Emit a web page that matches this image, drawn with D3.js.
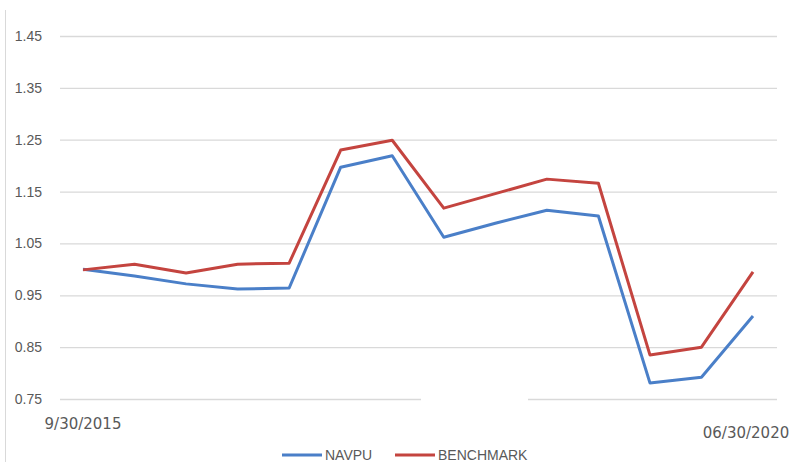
<!DOCTYPE html>
<html>
<head>
<meta charset="utf-8">
<script src="https://cdn.jsdelivr.net/npm/d3@7"></script>
<style>
  body { margin: 0; background: #fff; }
  svg text { font-family: "Liberation Sans Narrow", "Arial Narrow", "Liberation Sans", sans-serif; fill: #595959; }
  svg text.date { font-family: "DejaVu Sans", sans-serif; }
</style>
</head>
<body>
<svg id="chart" width="794" height="462"></svg>
<script>
// 14 observations, only first and last date are labelled on the axis
var periods = d3.range(14);
var firstLabel = "9/30/2015";
var lastLabel = "06/30/2020";
var navpu     = [1.000, 0.987, 0.972, 0.962, 0.964, 1.197, 1.219, 1.062, 1.089, 1.114, 1.103, 0.781, 0.792, 0.910];
var benchmark = [0.999, 1.010, 0.993, 1.010, 1.012, 1.230, 1.249, 1.118, 1.146, 1.174, 1.166, 0.835, 0.850, 0.995];
var yTicks = [0.75, 0.85, 0.95, 1.05, 1.15, 1.25, 1.35, 1.45];

var svg = d3.select("#chart"),
    margin = {top: 36, right: 17, bottom: 63, left: 60},
    width = +svg.attr("width") - margin.left - margin.right,
    height = +svg.attr("height") - margin.top - margin.bottom;

var x = d3.scalePoint()
    .domain(periods)
    .range([23, 693]);
var y = d3.scaleLinear()
    .domain([0.75, 1.45])
    .range([height, 0]);

// left border line
svg.append("line")
    .attr("x1", 5.5).attr("x2", 5.5)
    .attr("y1", 10).attr("y2", 462)
    .attr("stroke", "#d9d9d9").attr("stroke-width", 1);

var g = svg.append("g")
    .attr("transform", "translate(" + margin.left + "," + margin.top + ")");

// gridlines + labels
var yAxis = g.append("g")
    .call(d3.axisLeft(y).tickValues(yTicks).tickSize(-width).tickPadding(18)
      .tickFormat(d3.format(".2f")));
yAxis.select(".domain").remove();
yAxis.selectAll(".tick line").attr("stroke", "#d9d9d9").attr("stroke-width", 1.3);
yAxis.selectAll(".tick text").attr("font-size", 14).style("fill", "#595959");

// white patch breaking the bottom gridline, as in the source image
g.append("rect")
    .attr("x", 421 - margin.left).attr("y", height - 3)
    .attr("width", 107).attr("height", 6)
    .attr("fill", "#fff");

// x labels, first and last only
g.append("text")
    .attr("class", "date")
    .attr("x", x(0)).attr("y", height + 30)
    .attr("text-anchor", "middle").attr("font-size", 15)
    .text(firstLabel);
g.append("text")
    .attr("class", "date")
    .attr("x", x(13) - 7).attr("y", height + 39)
    .attr("text-anchor", "middle").attr("font-size", 15)
    .text(lastLabel);

var line = d3.line()
    .x(function(d, i) { return x(periods[i]); })
    .y(function(d) { return y(d); });

var series = [
  {name: "NAVPU", values: navpu, color: "#4a7fc8"},
  {name: "BENCHMARK", values: benchmark, color: "#c4443f"}
];

// benchmark drawn over navpu
g.selectAll("path.series")
    .data(series)
  .enter().append("path")
    .attr("class", "series")
    .attr("d", function(d) { return line(d.values); })
    .attr("fill", "none")
    .attr("stroke", function(d) { return d.color; })
    .attr("stroke-width", 3)
    .attr("stroke-linejoin", "round");

// legend
var legend = svg.append("g").attr("transform", "translate(282,455)");
var legX = [0, 113];
series.forEach(function(s, i) {
  var lg = legend.append("g").attr("transform", "translate(" + legX[i] + ",0)");
  lg.append("line")
      .attr("x1", 0).attr("x2", 40).attr("y1", 0).attr("y2", 0)
      .attr("stroke", s.color).attr("stroke-width", 3);
  lg.append("text")
      .attr("x", 43).attr("y", 5)
      .attr("font-size", 14)
      .text(s.name);
});
</script>
</body>
</html>
